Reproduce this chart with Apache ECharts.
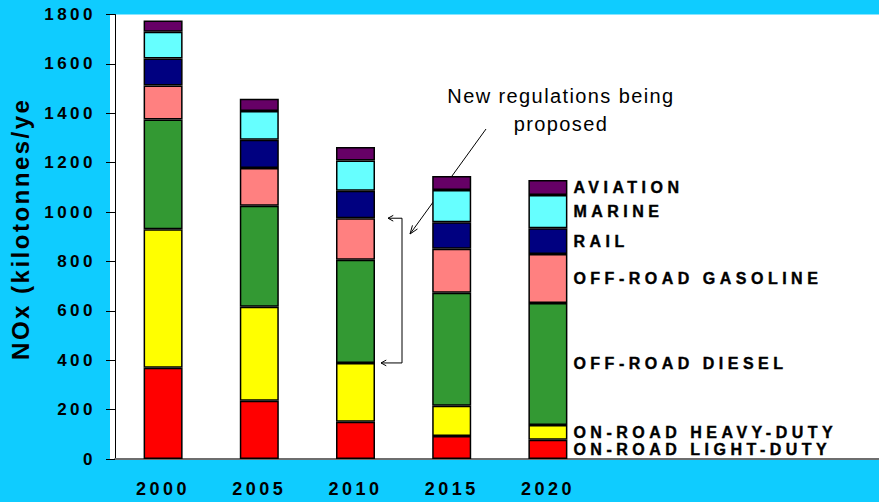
<!DOCTYPE html>
<html>
<head>
<meta charset="utf-8">
<script src="https://cdn.jsdelivr.net/npm/echarts@6/dist/echarts.min.js"></script>
<style>
html,body{margin:0;padding:0;background:#0FCCFF;overflow:hidden;}
#c{width:879px;height:502px;}
#c text[style*="tagA"]{letter-spacing:4.5px;}
#c text[style*="tagB"]{letter-spacing:3.5px;}
#c text[style*="tagC"]{letter-spacing:3.5px;}
#c text[style*="tagD"]{letter-spacing:2.5px;}
#c text[style*="tagE"]{letter-spacing:1.4px;}
</style>
</head>
<body>
<div id="c"></div>
<script>
// ---- data ----
const years = ['2000', '2005', '2010', '2015', '2020'];
const onRoadLightDuty = [370, 236, 151, 93, 78];
const onRoadHeavyDuty = [560, 381, 238, 123, 60];
const offRoadDiesel = [445, 409, 418, 457, 494];
const offRoadGasoline = [137, 152, 168, 178, 198];
const rail = [110, 115, 111, 108, 104];
const marine = [108, 116, 123, 130, 135];
const aviation = [46, 50, 54, 57, 61];
const yTicks = { min: 0, max: 1800, interval: 200 };
const yAxisTitle = 'NOx (kilotonnes/year)';
const annotationText = 'New regulations being\nproposed';

const fam = tag => '"Liberation Sans", ' + tag + ', Arial, sans-serif';

const stackDef = [
  { name: 'ON-ROAD LIGHT-DUTY', data: onRoadLightDuty, color: '#FF0000' },
  { name: 'ON-ROAD HEAVY-DUTY', data: onRoadHeavyDuty, color: '#FFFF00' },
  { name: 'OFF-ROAD DIESEL', data: offRoadDiesel, color: '#339933' },
  { name: 'OFF-ROAD GASOLINE', data: offRoadGasoline, color: '#FF8080' },
  { name: 'RAIL', data: rail, color: '#000080' },
  { name: 'MARINE', data: marine, color: '#66FFFF' },
  { name: 'AVIATION', data: aviation, color: '#660066' }
];

const chart = echarts.init(document.getElementById('c'), null, { renderer: 'svg' });

const series = stackDef.map(s => ({
  name: s.name,
  type: 'bar',
  stack: 'total',
  barWidth: 39,
  data: s.data,
  itemStyle: { color: s.color, borderColor: '#000', borderWidth: 1.5 },
  label: {
    show: true,
    position: 'right',
    distance: 6,
    formatter: p => (p.dataIndex === years.length - 1 ? s.name : ''),
    color: '#000',
    fontWeight: 700,
    fontSize: 16,
    fontFamily: fam('tagA'),
    textBorderColor: '#000',
    textBorderWidth: 0.4
  },
  emphasis: { disabled: true },
  animation: false
}));

chart.setOption({
  animation: false,
  backgroundColor: '#0FCCFF',
  grid: { left: 110, top: 14.5, width: 486, height: 444.5 },
  xAxis: {
    type: 'category',
    data: years,
    axisLine: { lineStyle: { color: '#6e6e6e', width: 2 } },
    axisTick: { show: false },
    axisLabel: { margin: 21, color: '#000', fontWeight: 'bold', fontSize: 18, fontFamily: fam('tagC') }
  },
  yAxis: {
    type: 'value',
    min: yTicks.min,
    max: yTicks.max,
    interval: yTicks.interval,
    axisLine: { show: true, lineStyle: { color: '#000', width: 1 } },
    axisTick: { show: true, length: 9, lineStyle: { color: '#000', width: 1 } },
    splitLine: { show: false },
    axisLabel: { margin: 19, color: '#000', fontWeight: 'bold', fontSize: 17, fontFamily: fam('tagB'),
      formatter: v => String(v) },
    name: yAxisTitle,
    nameLocation: 'middle',
    nameRotate: 90,
    nameGap: 83,
    nameTruncate: { maxWidth: 224, ellipsis: '' },
    nameTextStyle: { color: '#000', fontWeight: 'bold', fontSize: 24, fontFamily: fam('tagD'), padding: [0, 0, 0, 16] }
  },
  series: series
});

// annotation geometry derived from the 2010 stack (gasoline top / heavy-duty top)
const i2010 = years.indexOf('2010');
const topVal = onRoadLightDuty[i2010] + onRoadHeavyDuty[i2010] + offRoadDiesel[i2010] + offRoadGasoline[i2010];
const botVal = onRoadLightDuty[i2010] + onRoadHeavyDuty[i2010];
const yTop = chart.convertToPixel({ yAxisIndex: 0 }, topVal);
const yBot = chart.convertToPixel({ yAxisIndex: 0 }, botVal);
const y0 = chart.convertToPixel({ yAxisIndex: 0 }, 0);
const yMax = chart.convertToPixel({ yAxisIndex: 0 }, yTicks.max);

function arrowHead(tx, ty, fx, fy, len, ang) {
  const dx = fx - tx, dy = fy - ty;
  const L = Math.hypot(dx, dy);
  const ux = dx / L, uy = dy / L;
  const c = Math.cos(ang), s = Math.sin(ang);
  const a = [tx + len * (ux * c - uy * s), ty + len * (ux * s + uy * c)];
  const b = [tx + len * (ux * c + uy * s), ty + len * (-ux * s + uy * c)];
  return [a, [tx, ty], b];
}
const ls = { stroke: '#000', lineWidth: 1, fill: null };
const bx = 402;
const topTip = [388, yTop], botTip = [381, yBot];
const diagFrom = [486, 129], diagTo = [410, 234];

chart.setOption({
  graphic: [
    { type: 'rect', z: -100, z2: -100, silent: true,
      shape: { x: 110, y: yMax, width: 879 - 110, height: y0 - yMax },
      style: { fill: '#FFFFFF' } },
    { type: 'line', z: 1, silent: true,
      shape: { x1: 596, y1: y0, x2: 879, y2: y0 },
      style: { stroke: '#6e6e6e', lineWidth: 2 } },
    { type: 'polyline', silent: true,
      shape: { points: [[topTip[0], yTop], [bx, yTop], [bx, yBot], [botTip[0], yBot]] },
      style: ls },
    { type: 'polyline', silent: true, shape: { points: arrowHead(topTip[0], topTip[1], bx, yTop, 6, 0.5) }, style: ls },
    { type: 'polyline', silent: true, shape: { points: arrowHead(botTip[0], botTip[1], bx, yBot, 6, 0.5) }, style: ls },
    { type: 'line', silent: true,
      shape: { x1: diagFrom[0], y1: diagFrom[1], x2: diagTo[0], y2: diagTo[1] },
      style: { stroke: '#000', lineWidth: 1 } },
    { type: 'polyline', silent: true, shape: { points: arrowHead(diagTo[0], diagTo[1], diagFrom[0], diagFrom[1], 9, 0.35) }, style: ls },
    { type: 'text', silent: true, x: 561, y: 82,
      style: { text: annotationText, align: 'center', verticalAlign: 'top', font: '20px ' + fam('tagE'), lineHeight: 28, fill: '#000' } }
  ]
});
</script>
</body>
</html>
